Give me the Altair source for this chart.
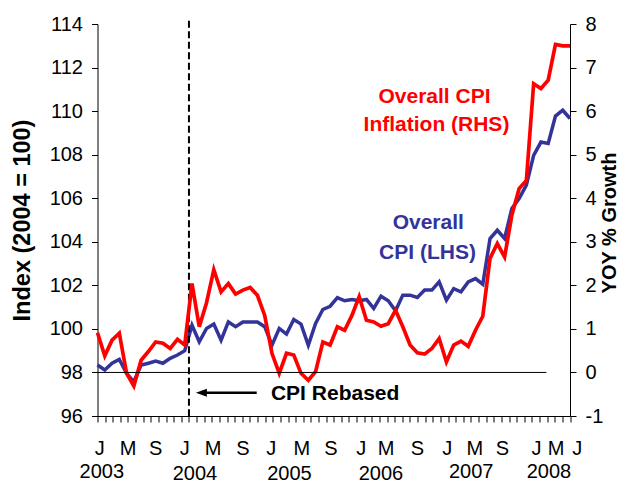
import altair as alt
import pandas as pd

FONT = "Liberation Sans"

# Monthly data, Jan 2003 .. Jun 2008 (index 0..65)
months = list(range(66))
cpi_index = [98.34, 98.11, 98.42, 98.60, 97.96, 97.57, 98.34, 98.42, 98.52, 98.42, 98.65, 98.80, 99.00,
             100.17, 99.41, 100.02, 100.22, 99.48, 100.32, 100.10, 100.32, 100.32, 100.32, 100.10,
             99.25, 100.02, 99.76, 100.43, 100.22, 99.25, 100.25, 100.89, 101.04, 101.44, 101.29, 101.35,
             101.29, 101.35, 100.94, 101.50, 101.29, 100.83, 101.55, 101.55, 101.44, 101.78, 101.78, 102.16,
             101.32, 101.85, 101.70, 102.16, 102.31, 102.05, 104.15, 104.53, 104.15, 105.53, 105.98, 106.60,
             107.97, 108.58, 108.51, 109.77, 110.04, 109.66]
inflation = [0.91, 0.38, 0.74, 0.90, -0.02, -0.31, 0.28, 0.48, 0.70, 0.67, 0.55, 0.76, 0.63,
             2.04, 1.05, 1.60, 2.36, 1.85, 2.04, 1.80, 1.89, 1.95, 1.77, 1.31,
             0.44, -0.02, 0.44, 0.40, -0.02, -0.18, 0.02, 0.70, 0.63, 1.05, 0.97, 1.31,
             1.74, 1.20, 1.16, 1.06, 1.12, 1.43, 1.05, 0.63, 0.45, 0.42, 0.55, 0.78,
             0.24, 0.63, 0.72, 0.60, 0.97, 1.29, 2.62, 2.96, 2.65, 3.61, 4.22, 4.41,
             6.63, 6.52, 6.71, 7.53, 7.50, 7.50]

month_labels = ["J", "M", "S", "J", "M", "S", "J", "M", "S", "J", "M", "S", "J", "M", "S", "J", "M", "J"]
month_label_pos = [0.3, 4.2, 8.0, 12.0, 15.9, 20.0, 23.9, 28.1, 32.1, 36.3, 39.7, 44.0, 48.1, 51.9, 55.7, 60.4, 63.1, 66.0]
year_labels = ["2003", "2004", "2005", "2006", "2007", "2008"]
year_label_pos = [0.6, 13.4, 26.4, 39.0, 51.4, 62.1]
year_label_y = [454, 456, 456, 456, 454, 454]

df = pd.DataFrame({"m": months, "cpi": cpi_index, "infl": inflation})

x_scale = alt.Scale(domain=[0, 65], nice=False, zero=False)
yl_scale = alt.Scale(domain=[96, 114], nice=False, zero=False)
yr_scale = alt.Scale(domain=[-1, 8], nice=False, zero=False)

tick_vals = [k * 65 / 62 for k in range(63)]

x_axis = alt.Axis(values=tick_vals, labels=False, tickSize=6, tickColor="black", tickWidth=1,
                  domainColor="black", domainWidth=1, grid=False, title=None, orient="bottom")

left_axis = alt.Axis(orient="left", values=list(range(96, 115, 2)), tickSize=6, tickColor="black",
                     domainColor="black", grid=False, labelFont=FONT, labelFontSize=20, labelColor="black",
                     labelPadding=9, title="Index (2004 = 100)", titleFont=FONT, titleFontSize=23.5,
                     titleFontWeight="bold", titleColor="black", titleAngle=270, titleX=-75.5, titleY=196,
                     titleAlign="center", titleBaseline="middle")
right_axis = alt.Axis(orient="right", values=list(range(-1, 9)), tickSize=6, tickColor="black",
                      domainColor="black", grid=False, labelFont=FONT, labelFontSize=20, labelColor="black",
                      labelPadding=9, labelExpr="'' + datum.value",
                      title="YOY % Growth", titleFont=FONT, titleFontSize=20,
                      titleFontWeight="bold", titleColor="black", titleAngle=270, titleX=39, titleY=198.5,
                      titleAlign="center", titleBaseline="middle")


def X(field):
    return alt.X(field, scale=x_scale, axis=x_axis)


def YL(field):
    return alt.Y(field, scale=yl_scale, axis=left_axis)


def YR(field):
    return alt.Y(field, scale=yr_scale, axis=right_axis)


blue_line = alt.Chart(df).mark_line(color="#333399", strokeWidth=3.5).encode(
    x=X("m:Q"), y=YL("cpi:Q"),
)

red_line = alt.Chart(df).mark_line(color="#FF0000", strokeWidth=3.7).encode(
    x=X("m:Q"), y=YR("infl:Q"),
)

dash_df = pd.DataFrame({"x": [12 * 65 / 62], "y0": [114.15], "y1": [96]})
dashed = alt.Chart(dash_df).mark_rule(color="black", strokeWidth=2, strokeDash=[7, 3.5]).encode(
    x=X("x:Q"), y=YL("y0:Q"), y2="y1:Q",
)

zero_df = pd.DataFrame({"x0": [0], "x1": [61.75], "y": [0]})
zero_line = alt.Chart(zero_df).mark_rule(color="black", strokeWidth=1).encode(
    x=X("x0:Q"), x2="x1:Q", y=YR("y:Q"),
)

arrow_df = pd.DataFrame({"x0": [14.9], "x1": [21.9], "y": [97.07]})
arrow_rule = alt.Chart(arrow_df).mark_rule(color="black", strokeWidth=2.5).encode(
    x=X("x0:Q"), x2="x1:Q", y=YL("y:Q"),
)
head_df = pd.DataFrame({"x": [14.29], "y": [97.07]})
arrow_head = alt.Chart(head_df).mark_point(
    shape="M -1 0 L 1 -0.72 L 1 0.72 Z", filled=True, color="black", opacity=1, size=121, strokeWidth=0
).encode(
    x=X("x:Q"), y=YL("y:Q"),
)

rebased_df = pd.DataFrame({"t": ["CPI Rebased"], "x": [32.69], "y": [96.73]})
rebased_text = alt.Chart(rebased_df).mark_text(
    font=FONT, fontSize=21, fontWeight="bold", color="black", align="center", baseline="alphabetic"
).encode(
    x=X("x:Q"), y=YL("y:Q"), text="t:N",
)

blue_ann = pd.DataFrame({"t": ["Overall", "CPI (LHS)"], "x": [45.5, 45.4], "y": [104.57, 103.19]})
blue_text = alt.Chart(blue_ann).mark_text(
    font=FONT, fontSize=21, fontWeight="bold", color="#333399", align="center", baseline="alphabetic"
).encode(
    x=X("x:Q"), y=YL("y:Q"), text="t:N",
)

red_ann = pd.DataFrame({"t": ["Overall CPI", "Inflation (RHS)"], "x": [46.36, 46.63], "y": [6.19, 5.54]})
red_text = alt.Chart(red_ann).mark_text(
    font=FONT, fontSize=21, fontWeight="bold", color="#FF0000", align="center", baseline="alphabetic"
).encode(
    x=X("x:Q"), y=YR("y:Q"), text="t:N",
)

mlab_df = pd.DataFrame({"t": month_labels, "x": month_label_pos})
month_text = alt.Chart(mlab_df).mark_text(
    font=FONT, fontSize=20, color="black", align="center", baseline="alphabetic"
).encode(
    x=X("x:Q"), y=alt.value(431), text="t:N",
)

ylab_df = pd.DataFrame({"t": year_labels, "x": year_label_pos, "py": year_label_y})
year_text = alt.Chart(ylab_df).mark_text(
    font=FONT, fontSize=20, color="black", align="center", baseline="alphabetic"
).encode(
    x=X("x:Q"), y=alt.Y("py:Q", scale=None), text="t:N",
)

left_group = alt.layer(blue_line, dashed, arrow_rule, arrow_head, rebased_text, blue_text, month_text)
right_group = alt.layer(red_line, zero_line, red_text)

chart = alt.layer(left_group, right_group, year_text).resolve_scale(
    y="independent"
).properties(
    width=472.5,
    height=392,
    padding={"left": 89.5, "top": 16, "right": 48, "bottom": 67},
    autosize=alt.AutoSizeParams(type="none"),
).configure_view(stroke=None)

chart.save("out.html", embed_options={"renderer": "svg", "actions": False})
